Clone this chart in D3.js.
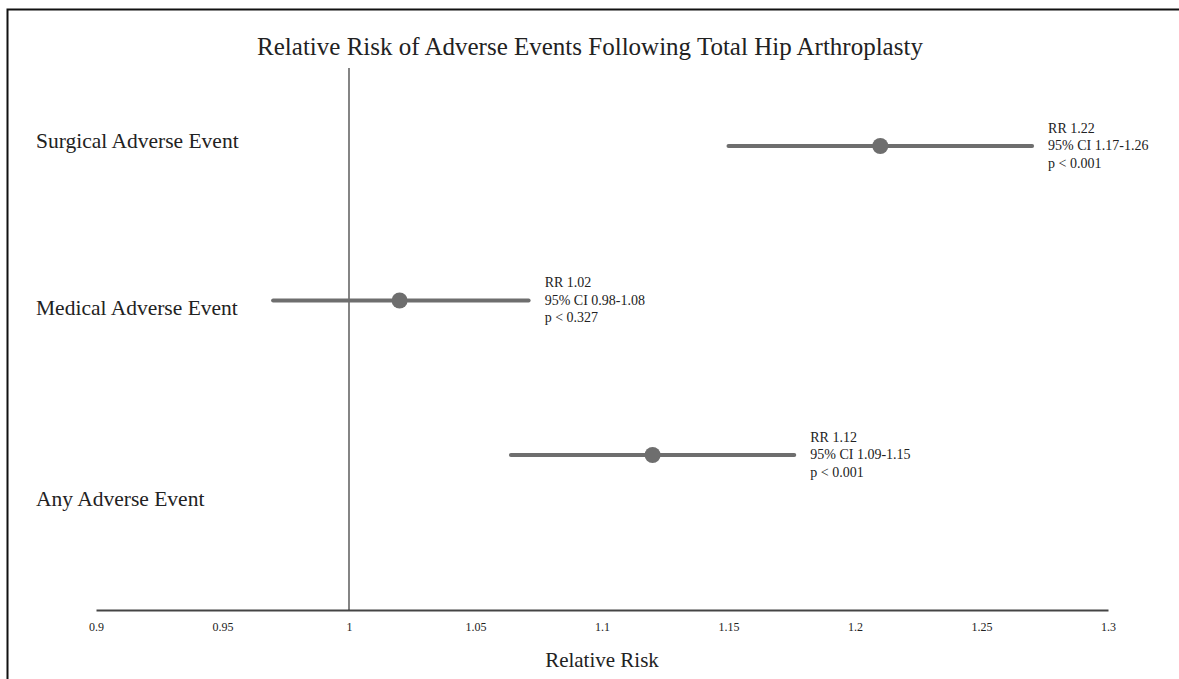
<!DOCTYPE html>
<html>
<head>
<meta charset="utf-8">
<script src="https://cdn.jsdelivr.net/npm/d3@7"></script>
<style>
    body { margin: 0; background: #fff; }
    svg { display: block; }
    text { font-family: 'Liberation Serif', 'Times New Roman', serif; fill: #222; }
</style>
</head>
<body>
<script>
// DATA
const categories = ['Surgical Adverse Event', 'Medical Adverse Event', 'Any Adverse Event'];
const rrPlotted = [1.21, 1.02, 1.12];
const ciLow = [1.150, 0.970, 1.064];
const ciHigh = [1.270, 1.071, 1.176];
const rrText = ['RR 1.22', 'RR 1.02', 'RR 1.12'];
const ciText = ['95% CI 1.17-1.26', '95% CI 0.98-1.08', '95% CI 1.09-1.15'];
const pText = ['p < 0.001', 'p < 0.327', 'p < 0.001'];
const xTicks = [0.9, 0.95, 1, 1.05, 1.1, 1.15, 1.2, 1.25, 1.3];

const chartConfig = {
    w: 1179,
    h: 679
};

const rows = categories.map(function(c, i) {
    return { cat: c, rr: rrPlotted[i], lo: ciLow[i], hi: ciHigh[i],
             lines: [rrText[i], ciText[i], pText[i]] };
});

// label nudges vs. the row centre, as they sit in the original figure
const labelShift = [-6, 7, 43];

const svg = d3.select('body')
    .append('svg')
    .attr('width', chartConfig.w)
    .attr('height', chartConfig.h);

// FRAME (top and left edges of the figure box)
svg.append('path')
    .attr('d', 'M7.5,' + chartConfig.h + 'V9.5H' + chartConfig.w)
    .attr('fill', 'none')
    .attr('stroke', '#111')
    .attr('stroke-width', 2);

// SCALES
const xScale = d3.scaleLinear()
    .domain([0.9, 1.3])
    .range([96, 1108]);

const yScale = d3.scalePoint()
    .domain(categories)
    .range([146, 455]);

// TITLE
svg.append('text')
    .attr('x', 590)
    .attr('y', 55)
    .attr('text-anchor', 'middle')
    .attr('font-size', '25px')
    .text('Relative Risk of Adverse Events Following Total Hip Arthroplasty');

// AXIS
const xAxis = d3.axisBottom(xScale)
    .tickValues(xTicks)
    .tickSize(0)
    .tickPadding(12)
    .tickFormat(d3.format(''));

const axisG = svg.append('g')
    .attr('transform', 'translate(0,610)')
    .call(xAxis);

axisG.select('.domain')
    .attr('stroke', '#444')
    .attr('stroke-width', 2);

axisG.selectAll('text')
    .attr('font-family', "'Liberation Serif', serif")
    .attr('font-size', '12px')
    .attr('fill', '#222');

svg.append('text')
    .attr('x', xScale(1.1))
    .attr('y', 667)
    .attr('text-anchor', 'middle')
    .attr('font-size', '21px')
    .text('Relative Risk');

// REFERENCE LINE at RR = 1
svg.append('line')
    .attr('x1', xScale(1))
    .attr('x2', xScale(1))
    .attr('y1', 68)
    .attr('y2', 610)
    .attr('stroke', '#333')
    .attr('stroke-width', 1.2);

// CATEGORY LABELS
svg.selectAll('.cat')
    .data(rows)
    .enter()
    .append('text')
    .attr('class', 'cat')
    .attr('x', 36)
    .attr('y', function(d, i) { return yScale(d.cat) + labelShift[i]; })
    .attr('dy', '0.35em')
    .attr('font-size', '21.5px')
    .text(function(d) { return d.cat; });

// CI LINES
svg.selectAll('.ci')
    .data(rows)
    .enter()
    .append('line')
    .attr('class', 'ci')
    .attr('x1', function(d) { return xScale(d.lo); })
    .attr('x2', function(d) { return xScale(d.hi); })
    .attr('y1', function(d) { return yScale(d.cat); })
    .attr('y2', function(d) { return yScale(d.cat); })
    .attr('stroke', '#6e6e6e')
    .attr('stroke-width', 4)
    .attr('stroke-linecap', 'round');

// POINTS
svg.selectAll('.pt')
    .data(rows)
    .enter()
    .append('circle')
    .attr('class', 'pt')
    .attr('cx', function(d) { return xScale(d.rr); })
    .attr('cy', function(d) { return yScale(d.cat); })
    .attr('r', 8)
    .attr('fill', '#6e6e6e');

// ANNOTATIONS
const notes = svg.selectAll('.note')
    .data(rows)
    .enter()
    .append('text')
    .attr('class', 'note')
    .attr('font-size', '14px')
    .attr('y', function(d) { return yScale(d.cat) - 18; });

notes.selectAll('tspan')
    .data(function(d) { return d.lines.map(function(t) { return { t: t, x: xScale(d.hi) + 16 }; }); })
    .enter()
    .append('tspan')
    .attr('x', function(d) { return d.x; })
    .attr('dy', function(d, i) { return i === 0 ? '0.35em' : '17.5px'; })
    .text(function(d) { return d.t; });
</script>
</body>
</html>
